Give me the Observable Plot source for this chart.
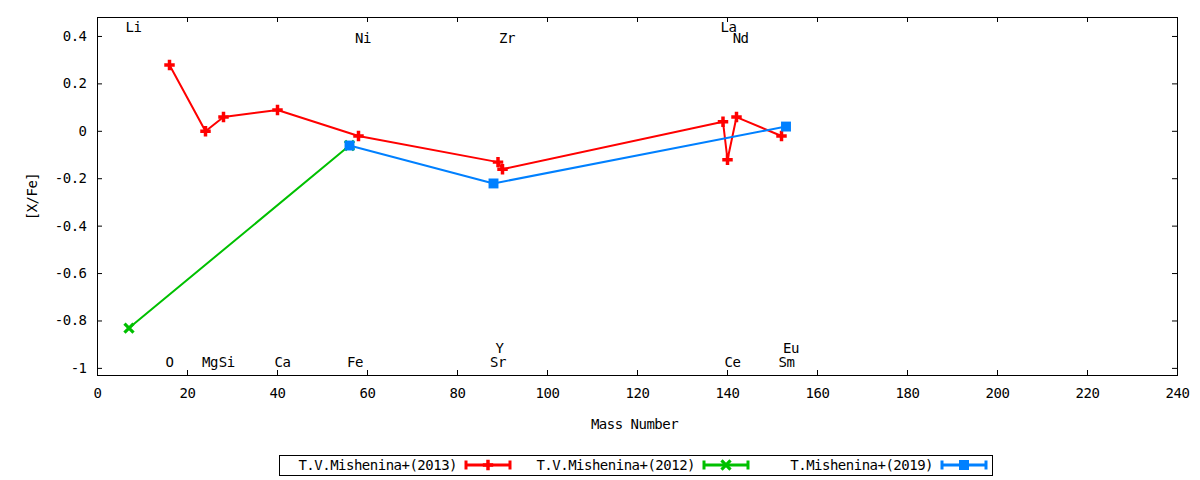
<!DOCTYPE html>
<html><head><meta charset="utf-8">
<script src="https://cdn.jsdelivr.net/npm/d3@7"></script>
<script src="https://cdn.jsdelivr.net/npm/@observablehq/plot@0.6"></script>
<style>
body{margin:0;background:#fff;}
svg{display:block;}
svg text{font-family:"DejaVu Sans Mono",monospace;letter-spacing:-0.5px;}
</style></head><body><div id="chart"></div>
<script>
// ---- data ----
const el2013 = ["O","Mg","Si","Ca","Ni","Y","Zr","La","Ce","Nd","Sm"];
const mass2013 = [16,24,28,40,58,89,90,139,140,142,152];
const xfe2013 = [0.28,0.00,0.06,0.09,-0.02,-0.13,-0.16,0.04,-0.12,0.06,-0.02];
const el2012 = ["Li","Fe"];
const mass2012 = [7,56];
const xfe2012 = [-0.83,-0.06];
const el2019 = ["Fe","Sr","Eu"];
const mass2019 = [56,88,153];
const xfe2019 = [-0.06,-0.22,0.02];
const seriesNames = ["T.V.Mishenina+(2013)","T.V.Mishenina+(2012)","T.Mishenina+(2019)"];
const seriesColors = ["#ff0000","#00c000","#0080ff"];
const seriesSymbols = ["cross","times","square"];
const labelNames = ["Li","Ni","Zr","La","Nd","O","Mg","Si","Ca","Fe","Sr","Y","Ce","Sm","Eu"];
const labelX = [8,59,91,140.2,142.9,16,25,28.7,41.1,57.2,89,89.3,141.1,153.1,154.1];
const labelY = [0.438,0.392,0.392,0.438,0.392,-0.977,-0.977,-0.977,-0.977,-0.977,-0.977,-0.918,-0.977,-0.977,-0.918];
const xTicks = [0,20,40,60,80,100,120,140,160,180,200,220,240];
const yTicks = [-1,-0.8,-0.6,-0.4,-0.2,0,0.2,0.4];

// ---- layout ----
const W = 1200, H = 448;
const mL = 97, mR = 23, mT = 17, mB = 73;
const innerW = W - mL - mR, innerH = H - mT - mB;
const tickLen = 5;
const fmt = d => String(+d.toFixed(1));

const series = [
  {m: mass2013, v: xfe2013},
  {m: mass2012, v: xfe2012},
  {m: mass2019, v: xfe2019}
];

const marks = [
  Plot.frame({stroke: "#000", strokeWidth: 1}),
  Plot.tickX(xTicks, {x: d => d, insetTop: innerH - tickLen, stroke: "#000"}),
  Plot.tickX(xTicks, {x: d => d, insetBottom: innerH - tickLen, stroke: "#000"}),
  Plot.tickY(yTicks, {y: d => d, insetRight: innerW - tickLen, stroke: "#000"}),
  Plot.tickY(yTicks, {y: d => d, insetLeft: innerW - tickLen, stroke: "#000"}),
  Plot.axisX(xTicks, {anchor: "bottom", tickSize: 0, tickPadding: 13, tickFormat: d => String(d), label: null, fontSize: 14}),
  Plot.axisY(yTicks, {anchor: "left", tickSize: 0, tickPadding: 11, tickFormat: fmt, label: null, fontSize: 14}),
  Plot.text(["Mass Number"], {frameAnchor: "bottom", dx: -3, dy: 49, text: d => d, lineAnchor: "middle", fontSize: 14, fill: "#000"}),
  Plot.text(["[X/Fe]"], {frameAnchor: "left", dx: -65, rotate: -90, text: d => d, lineAnchor: "middle", textAnchor: "middle", fontSize: 14, fill: "#000"}),
  Plot.text(labelNames.map((_, i) => i), {x: i => labelX[i], y: i => labelY[i], text: i => labelNames[i], textAnchor: "middle", lineAnchor: "middle", fontSize: 14, fill: "#000"})
];

series.forEach((s, k) => {
  const idx = s.m.map((_, i) => i);
  marks.push(Plot.line(idx, {x: i => s.m[i], y: i => s.v[i], stroke: seriesColors[k], strokeWidth: 2}));
  if (seriesSymbols[k] === "times") {
    marks.push(Plot.dot(idx, {x: i => s.m[i], y: i => s.v[i], symbol: "times", stroke: seriesColors[k], strokeWidth: 3.2, r: 4.2}));
  } else if (seriesSymbols[k] === "cross") {
    marks.push(Plot.dot(idx, {x: i => s.m[i], y: i => s.v[i], symbol: "cross", fill: seriesColors[k], stroke: "none", r: 4.4}));
  } else {
    marks.push(Plot.dot(idx, {x: i => s.m[i], y: i => s.v[i], symbol: "square", fill: seriesColors[k], stroke: "none", r: 5.6}));
  }
});

const chart = Plot.plot({
  width: W, height: H,
  marginLeft: mL, marginRight: mR, marginTop: mT, marginBottom: mB,
  style: {fontFamily: "DejaVu Sans Mono", fontSize: "14px", color: "#000", background: "#fff"},
  x: {domain: [0, 240]},
  y: {domain: [-1.03, 0.48]},
  marks
});
document.getElementById("chart").appendChild(chart);

// ---- legend (below the plot) ----
const leg = d3.select("body").append("svg").attr("width", W).attr("height", 32);
leg.append("rect").attr("x", 279.5).attr("y", 7.5).attr("width", 713).attr("height", 20)
  .attr("fill", "none").attr("stroke", "#000");
const symMap = {cross: d3.symbolCross, times: d3.symbolTimes, square: d3.symbolSquare};
seriesNames.forEach((name, i) => {
  const tEnd = 457 + 238 * i, s0 = tEnd + 9, s1 = tEnd + 53, cy = 17, c = seriesColors[i];
  leg.append("text").attr("x", tEnd).attr("y", cy).attr("text-anchor", "end")
    .attr("dominant-baseline", "central").attr("font-size", 14).attr("fill", "#000").text(name);
  leg.append("line").attr("x1", s0).attr("x2", s1).attr("y1", cy).attr("y2", cy)
    .attr("stroke", c).attr("stroke-width", 3);
  [s0, s1].forEach(x => leg.append("line").attr("x1", x).attr("x2", x).attr("y1", cy - 4.5).attr("y2", cy + 4.5)
    .attr("stroke", c).attr("stroke-width", 3));
  const sym = seriesSymbols[i];
  const size = sym === "square" ? 100 : sym === "cross" ? 60 : 55;
  const p = leg.append("path").attr("transform", `translate(${(s0 + s1) / 2},${cy})`)
    .attr("d", d3.symbol(symMap[sym], size)());
  if (sym === "times") p.attr("fill", "none").attr("stroke", c).attr("stroke-width", 3.2);
  else p.attr("fill", c);
});
</script></body></html>
